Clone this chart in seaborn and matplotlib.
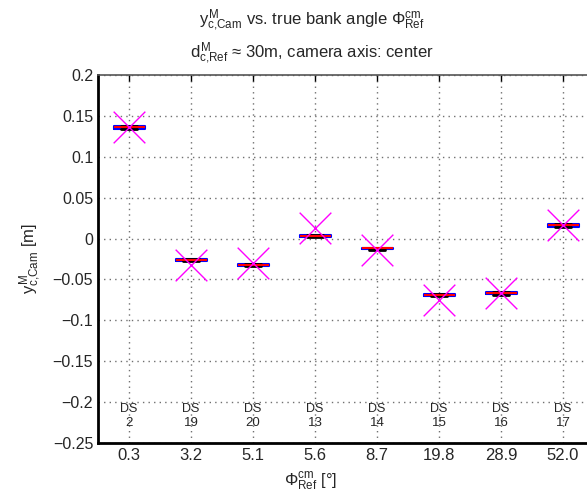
import numpy as np
import pandas as pd
import matplotlib
matplotlib.use("Agg")
import matplotlib.pyplot as plt
import seaborn as sns

# Daten
phi_labels = ["0.3", "3.2", "5.1", "5.6", "8.7", "19.8", "28.9", "52.0"]
ds_ids = [2, 19, 20, 13, 14, 15, 16, 17]
y_lo = [0.1340, -0.0280, -0.0340, 0.0015, -0.0135, -0.0705, -0.0685, 0.0140]
y_q1 = [0.1345, -0.0275, -0.0335, 0.0020, -0.0130, -0.0700, -0.0680, 0.0145]
y_med = [0.1360, -0.0260, -0.0320, 0.0030, -0.0120, -0.0690, -0.0670, 0.0160]
y_q3 = [0.1375, -0.0245, -0.0305, 0.0040, -0.0110, -0.0680, -0.0655, 0.0175]
y_hi = [0.1375, -0.0245, -0.0305, 0.0040, -0.0110, -0.0680, -0.0655, 0.0175]
y_true = [0.1360, -0.0320, -0.0300, 0.0130, -0.0140, -0.0750, -0.0670, 0.0170]
yticks = [-0.25, -0.2, -0.15, -0.1, -0.05, 0, 0.05, 0.1, 0.15, 0.2]

sns.set_theme(style="white")
plt.rcParams['font.family'] = ['Liberation Sans', 'DejaVu Sans']
plt.rcParams['mathtext.fontset'] = 'custom'
plt.rcParams['mathtext.rm'] = 'Liberation Sans'
plt.rcParams['mathtext.it'] = 'Liberation Sans'
plt.rcParams['mathtext.bf'] = 'Liberation Sans'

# long-form Tabelle für boxplot (5 Werte -> exakte Quartile)
rows = []
for i, lab in enumerate(phi_labels):
    for v in (y_lo[i], y_q1[i], y_med[i], y_q3[i], y_hi[i]):
        rows.append({'phi': lab, 'y': v})
df = pd.DataFrame(rows)
df_true = pd.DataFrame({'phi': phi_labels, 'y': y_true})

fig = plt.figure(figsize=(5.87, 4.98), dpi=100)
ax = fig.add_axes([0.167, 0.1104, 0.845, 0.739])

sns.boxplot(data=df, x='phi', y='y', order=phi_labels, width=0.5, fill=False,
            whis=(0, 100), linewidth=1, ax=ax, color='blue',
            boxprops=dict(color='blue', linewidth=1.5),
            medianprops=dict(color='red', linewidth=1.5),
            whiskerprops=dict(color='black', linestyle='--'),
            capprops=dict(color='black', linewidth=2),
            showfliers=False)
sns.scatterplot(data=df_true, x='phi', y='y', marker='x', s=520, color='#ff00ff',
                linewidth=1, ax=ax, zorder=5)

for i, d in enumerate(ds_ids):
    ax.text(i, -0.209, "DS", ha='center', va='center', fontsize=9)
    ax.text(i, -0.2255, str(d), ha='center', va='center', fontsize=9.5)

ax.set_xlim(-0.5, 7.5)
ax.set_ylim(-0.25, 0.2)
ax.set_yticks(yticks)
ax.set_yticklabels([f"{v:g}".replace('-', '\u2212') for v in yticks], fontsize=11.5)
ax.tick_params(axis='x', labelsize=12)
ax.tick_params(direction='in', top=True, right=True, length=4, width=1, color='black')
ax.grid(True, linestyle=(0, (1, 3)), color='#707070', linewidth=1)

for s in ['left', 'bottom']:
    ax.spines[s].set_linewidth(2)
    ax.spines[s].set_color('black')
ax.spines['top'].set_linewidth(1.2)
ax.spines['top'].set_color('#555555')

ax.set_xlabel(r"$\Phi^{cm}_{Ref}$ [°]", fontsize=12, labelpad=2)
ax.xaxis.set_label_coords(0.428, -0.075)
ax.set_ylabel(r"$y^{M}_{c{,}Cam}$ [m]", fontsize=12, labelpad=7)
ax.set_title("$y^{M}_{c{,}Cam}$ vs. true bank angle $\\Phi^{cm}_{Ref}$\n"
             "$d^{M}_{c{,}Ref}$ \u2248 30m, camera axis: center",
             fontsize=12, linespacing=1.35, pad=13, x=0.431)

fig.savefig("out.png", dpi=100)
